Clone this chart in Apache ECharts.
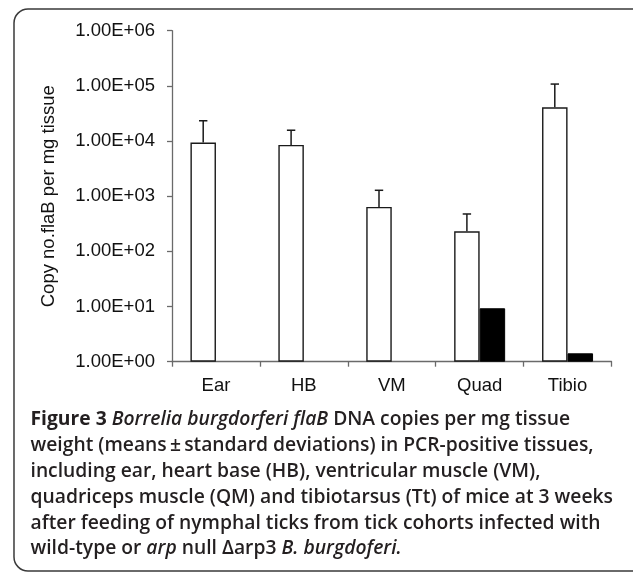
<!DOCTYPE html>
<html>
<head>
<meta charset="utf-8">
<script src="https://cdn.jsdelivr.net/npm/echarts@6/dist/echarts.min.js"></script>
<style>
html,body{margin:0;padding:0;background:#fff;}
#chart{width:633px;height:572px;}
</style>
</head>
<body>
<div id="chart"></div>
<script>
const categories = ['Ear', 'HB', 'VM', 'Quad', 'Tibio'];
const wildType = [9400, 8500, 640, 231, 40800];
const wildTypeSD = [13900, 7200, 640, 245, 67000];
const arpNull = [null, null, null, 9.3, 1.42];
const yTicks = [1, 10, 100, 1000, 10000, 100000, 1000000];

const BAR_W = 25.5;
const chart = echarts.init(document.getElementById('chart'), null, {renderer: 'canvas'});

const errData = categories.map((c, i) => [i, wildType[i], wildType[i] + wildTypeSD[i]]);

const captionLines = [
  '{b|Figure 3} {i|Borrelia burgdorferi flaB} {n|DNA copies per mg tissue}',
  '{n|weight (means\u2009\u00b1\u2009standard deviations) in PCR-positive tissues,}',
  '{n|including ear, heart base (HB), ventricular muscle (VM),}',
  '{n|quadriceps muscle (QM) and tibiotarsus (Tt) of mice at 3 weeks}',
  '{n|after feeding of nymphal ticks from tick cohorts infected with}',
  '{n|wild-type or} {i|arp} {n|null \u0394arp3} {i|B. burgdoferi.}'
];
const capFont = '"Open Sans", "Noto Sans", sans-serif';
const capSize = 19.3;
const rich = {
  b: {fontFamily: capFont, fontSize: capSize, fontWeight: 'bold', fill: '#231f20'},
  i: {fontFamily: capFont, fontSize: capSize, fontStyle: 'italic', fontWeight: 600, fill: '#231f20'},
  n: {fontFamily: capFont, fontSize: capSize, fontWeight: 600, fill: '#231f20'}
};

const graphics = [
  {
    type: 'rect', z: -1, silent: true,
    shape: {x: 14, y: 9, width: 660, height: 562, r: 14},
    style: {fill: 'none', stroke: '#3a3a3a', lineWidth: 1.5}
  }
].concat(captionLines.map((t, k) => ({
  type: 'text', x: 30.5, y: 420 + k * 25.8, silent: true,
  style: {text: t, rich: rich, fontFamily: capFont, fontSize: capSize, fill: '#231f20', verticalAlign: 'middle', align: 'left'}
})));

const labelFont = '"Liberation Sans", Arial, sans-serif';
const axisColor = '#6a6a6a';

const option = {
  animation: false,
  backgroundColor: '#ffffff',
  grid: {left: 172, right: 21.5, top: 30.7, bottom: 210.3, containLabel: false},
  xAxis: {
    type: 'category',
    data: categories,
    boundaryGap: true,
    axisLine: {show: true, lineStyle: {color: axisColor, width: 1.3}},
    axisTick: {show: true, length: 5, lineStyle: {color: axisColor, width: 1.3}},
    axisLabel: {color: '#111', fontFamily: labelFont, fontSize: 18.5, margin: 15},
    splitLine: {show: false}
  },
  yAxis: {
    type: 'log',
    logBase: 10,
    min: yTicks[0],
    max: yTicks[yTicks.length - 1],
    name: 'Copy no.flaB per mg tissue',
    nameLocation: 'middle',
    nameGap: 114,
    nameRotate: 90,
    nameTextStyle: {color: '#111', fontFamily: labelFont, fontSize: 18.5},
    axisLine: {show: true, lineStyle: {color: axisColor, width: 1.3}},
    axisTick: {show: true, length: 5, lineStyle: {color: axisColor, width: 1.3}},
    axisLabel: {
      color: '#111', fontFamily: labelFont, fontSize: 18.5, margin: 17,
      formatter: function (v) {
        const e = Math.round(Math.log10(v));
        return '1.00E+' + (e < 10 ? '0' + e : e);
      }
    },
    splitLine: {show: false}
  },
  series: [
    {
      name: 'wild-type', type: 'bar', data: wildType,
      barWidth: BAR_W, barGap: '0%',
      itemStyle: {color: '#ffffff', borderColor: '#1a1a1a', borderWidth: 1.4},
      z: 2
    },
    {
      name: 'arp null', type: 'bar', data: arpNull,
      barWidth: BAR_W, barGap: '0%',
      itemStyle: {color: '#000000', borderColor: '#000', borderWidth: 1},
      z: 2
    },
    {
      name: 'sd', type: 'custom', data: errData, z: 3,
      encode: {x: 0, y: [1, 2]},
      renderItem: function (params, api) {
        const i = api.value(0);
        const p1 = api.coord([i, api.value(1)]);
        const p2 = api.coord([i, api.value(2)]);
        const cx = p1[0] - BAR_W / 2;
        const st = {stroke: '#1a1a1a', lineWidth: 1.5};
        return {
          type: 'group',
          children: [
            {type: 'line', shape: {x1: cx, y1: p1[1], x2: cx, y2: p2[1]}, style: st},
            {type: 'line', shape: {x1: cx - 4.2, y1: p2[1], x2: cx + 4.2, y2: p2[1]}, style: st}
          ]
        };
      }
    }
  ],
  graphic: graphics
};
chart.setOption(option);
</script>
</body>
</html>
